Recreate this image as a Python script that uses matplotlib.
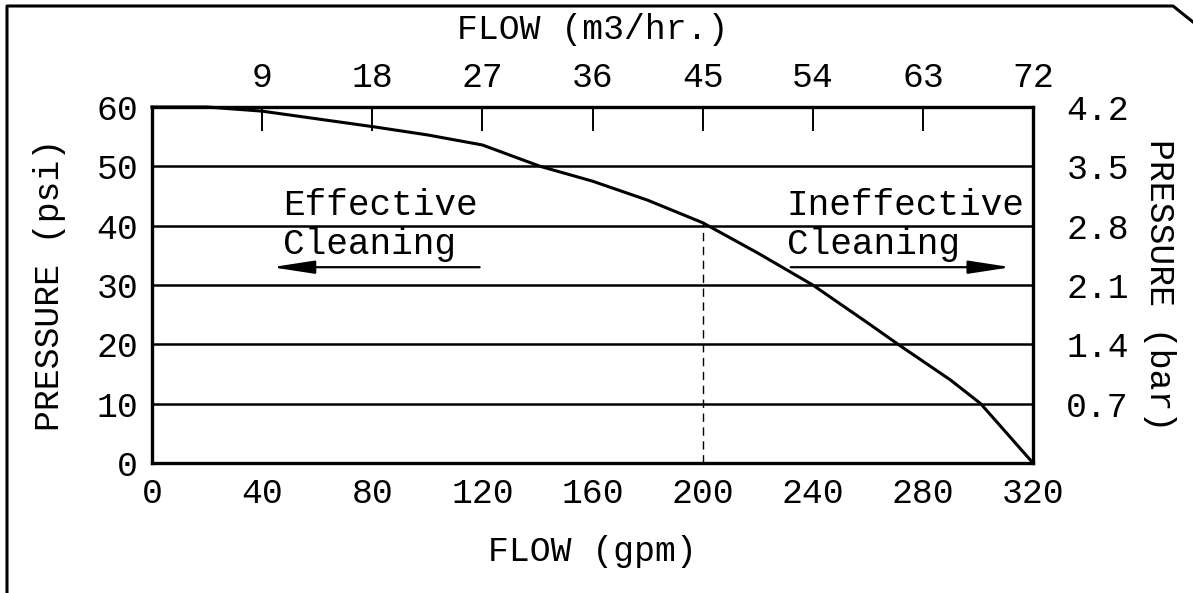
import numpy as np
import matplotlib.pyplot as plt
from matplotlib.lines import Line2D

# pump curve
flow_gpm = [0, 20, 40, 80, 100, 120, 141, 160, 180, 200, 220, 240, 260, 271, 290, 301, 320]
pressure_psi = [60, 60, 59.3, 56.7, 55.3, 53.6, 50, 47.5, 44.3, 40.5, 35.4, 30, 23.6, 20, 14, 10, 0]

gpm_ticks = [0, 40, 80, 120, 160, 200, 240, 280, 320]
m3h_ticks = [9, 18, 27, 36, 45, 54, 63, 72]
psi_ticks = [0, 10, 20, 30, 40, 50, 60]
bar_ticks = [0.7, 1.4, 2.1, 2.8, 3.5, 4.2]

cutoff_gpm = 200
eff_arrow = (119, 43.5, 33)     # from, to, height
ineff_arrow = (232, 312, 33)

font = "Liberation Mono"
fs = 25
plt.rcParams['font.family'] = [font, 'DejaVu Sans Mono']

fig = plt.figure(figsize=(11.93, 5.93), dpi=100)
ax = fig.add_axes([152/1193, 1-463/593, (1033-152)/1193, (463-107)/593])

ax.plot(flow_gpm, pressure_psi, color='k', lw=2.2, clip_on=False, zorder=3)
ax.vlines(cutoff_gpm, 0, np.interp(cutoff_gpm, flow_gpm, pressure_psi),
          colors='k', linestyles=(0, (6, 4)), lw=1.0)

ax.set_xlim(0, 320)
ax.set_ylim(0, 60)
ax.set_xticks(gpm_ticks)
ax.set_yticks(psi_ticks)
for y in psi_ticks[1:-1]:
    ax.axhline(y, color='k', lw=1.8, zorder=1)

for s in ax.spines.values():
    s.set_linewidth(2.4)

ax.tick_params(axis='x', direction='in', length=17, width=1.4, labelsize=fs, pad=10)
ax.tick_params(axis='y', length=0, labelsize=fs, pad=10)
ax.set_xlabel("FLOW (gpm)", fontsize=fs, labelpad=18)
ax.set_ylabel("PRESSURE (psi)", fontsize=fs, labelpad=22)

# hide edge tick marks, keep labels
for t in ax.xaxis.get_major_ticks():
    if t.get_loc() in (0, 320):
        t.tick1line.set_visible(False)

top = ax.secondary_xaxis('top', functions=(lambda g: g * 9 / 40, lambda m: m * 40 / 9))
top.set_xticks(m3h_ticks)
top.tick_params(direction='in', length=17, width=1.4, labelsize=fs, pad=9)
top.spines['top'].set_visible(False)
for t in top.xaxis.get_major_ticks():
    if t.get_loc() == 72:
        t.tick2line.set_visible(False)
top.set_xlabel("FLOW (m3/hr.)", fontsize=fs, labelpad=16)

right = ax.secondary_yaxis('right', functions=(lambda p: p * 0.07, lambda b: b / 0.07))
right.set_yticks(bar_ticks)
right.set_yticklabels([f"{b:.1f}" for b in bar_ticks])
right.tick_params(length=0, labelsize=fs, pad=24)
right.spines['right'].set_visible(False)
right.set_ylabel("PRESSURE (bar)", fontsize=fs, rotation=270, labelpad=34)

afs = 26
ax.text(47.5, 41.8, "Effective", fontsize=afs)
ax.text(47.5, 35.2, "Cleaning", fontsize=afs)
ax.text(230.5, 41.8, "Ineffective", fontsize=afs)
ax.text(230.5, 35.2, "Cleaning", fontsize=afs)

aprops = dict(arrowstyle='-|>,head_length=1.3,head_width=0.2', lw=1.6,
              color='k', mutation_scale=20, shrinkA=0, shrinkB=0)
ax.annotate("", xy=(eff_arrow[1], eff_arrow[2]), xytext=(eff_arrow[0], eff_arrow[2]),
            arrowprops=aprops)
ax.annotate("", xy=(ineff_arrow[1], ineff_arrow[2]), xytext=(ineff_arrow[0], ineff_arrow[2]),
            arrowprops=aprops)

# drawing frame with clipped corner
fig.add_artist(Line2D([7/1193, 7/1193, 1173/1193, 1193/1193],
                      [0, 1-6/593, 1-6/593, 1-22/593],
                      transform=fig.transFigure, color='k', lw=2.2))

fig.savefig("out.png", dpi=100)
